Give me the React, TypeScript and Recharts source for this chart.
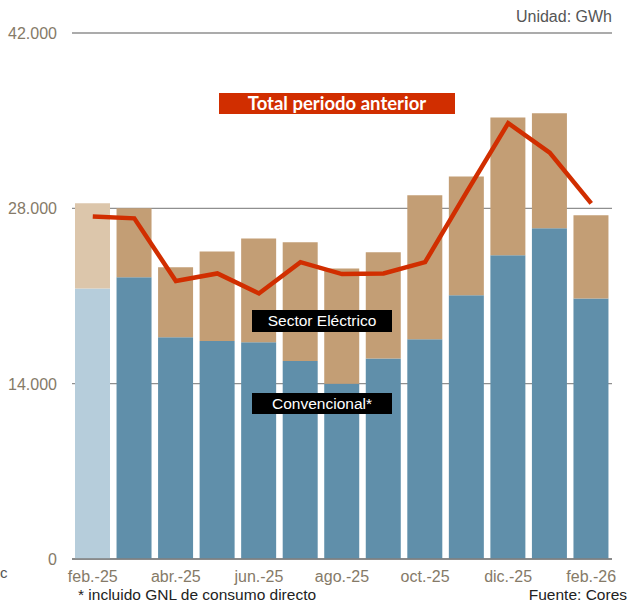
import { ComposedChart, Bar, Line, XAxis, YAxis, CartesianGrid, Cell } from 'recharts';

const months = ['feb.-25', 'mar.-25', 'abr.-25', 'may.-25', 'jun.-25', 'jul.-25', 'ago.-25', 'sep.-25', 'oct.-25', 'nov.-25', 'dic.-25', 'ene.-26', 'feb.-26'];
// Convencional* (blue, lower part of the stack)
const convencional = [21600, 22500, 17700, 17400, 17300, 15800, 14000, 16000, 17550, 21050, 24250, 26400, 20800];
// Sector Eléctrico (tan, upper part)
const sectorElectrico = [6800, 5500, 5600, 7150, 8300, 9500, 9200, 8500, 11500, 9500, 11000, 9200, 6650];
// Total periodo anterior (red line)
const totalAnterior = [27350, 27200, 22200, 22800, 21200, 23700, 22750, 22800, 23700, 29300, 34800, 32450, 28400];
const yTicks = [0, 14000, 28000, 42000];

const data = months.map((m, i) => ({
    month: m,
    conv: convencional[i],
    elec: sectorElectrico[i],
    prev: totalAnterior[i],
}));

const fmt = (v: number) => v.toLocaleString('de-DE');
const font = '"Liberation Sans", Arial, sans-serif';

const YTick = ({ y, payload }: any) => (
    <text x={57} y={y} dy={6} textAnchor="end" fill="#857a68" fontSize={16} fontFamily={font}>
        {fmt(payload.value)}
    </text>
);

export default function App() {
    return (
        <div style={{ position: 'absolute', left: 0, top: 0, width: 627, height: 604, background: '#fff', fontFamily: font, overflow: 'hidden' }}>
            <ComposedChart width={627} height={604} data={data} margin={{ top: 33, right: 15, left: 0, bottom: 0 }} barSize={35}>
                <CartesianGrid vertical={false} stroke="#8f8f8f" strokeWidth={1.3} />
                <XAxis
                    dataKey="month"
                    interval={1}
                    height={45}
                    tickLine={false}
                    axisLine={{ stroke: '#7f7f7f', strokeWidth: 1.5 }}
                    tick={{ fill: '#857a68', fontSize: 16, fontFamily: font }}
                    tickMargin={6}
                />
                <YAxis width={72} domain={[0, 42000]} ticks={yTicks} tick={<YTick />} tickLine={false} axisLine={false} />
                <Bar dataKey="conv" stackId="a" fill="#608faa" isAnimationActive={false}>
                    {data.map((_, i) => (
                        <Cell key={`c-${i}`} fill={i === 0 ? '#b6cddb' : '#608faa'} />
                    ))}
                </Bar>
                <Bar dataKey="elec" stackId="a" fill="#c39e75" isAnimationActive={false}>
                    {data.map((_, i) => (
                        <Cell key={`e-${i}`} fill={i === 0 ? '#dcc6ab' : '#c39e75'} />
                    ))}
                </Bar>
                <Line dataKey="prev" type="linear" stroke="#d12e00" strokeWidth={4.5} dot={false} isAnimationActive={false} />
            </ComposedChart>

            <div style={{ position: 'absolute', left: 219, top: 93, width: 236, height: 21, background: '#d12e00', color: '#fff', fontFamily: 'Lato, sans-serif', fontWeight: 700, fontSize: 18.5, lineHeight: '21px', textAlign: 'center' }}>
                Total periodo anterior
            </div>
            <div style={{ position: 'absolute', left: 252, top: 310, width: 140, height: 22, background: '#000', color: '#fff', fontSize: 15.5, lineHeight: '22px', textAlign: 'center' }}>
                Sector Eléctrico
            </div>
            <div style={{ position: 'absolute', left: 252, top: 393, width: 140, height: 21, background: '#000', color: '#fff', fontSize: 15.5, lineHeight: '21px', textAlign: 'center' }}>
                Convencional*
            </div>

            <div style={{ position: 'absolute', right: 15, top: 8, color: '#555', fontSize: 16, lineHeight: '18px' }}>Unidad: GWh</div>
            <div style={{ position: 'absolute', left: 0, top: 564, color: '#555', fontSize: 15, lineHeight: '18px' }}>c</div>
            <div style={{ position: 'absolute', left: 78, top: 586, color: '#222', fontSize: 15.5, lineHeight: '17px' }}>* incluido GNL de consumo directo</div>
            <div style={{ position: 'absolute', right: 0, top: 586, color: '#222', fontSize: 15.5, lineHeight: '17px' }}>Fuente: Cores</div>
        </div>
    );
}
